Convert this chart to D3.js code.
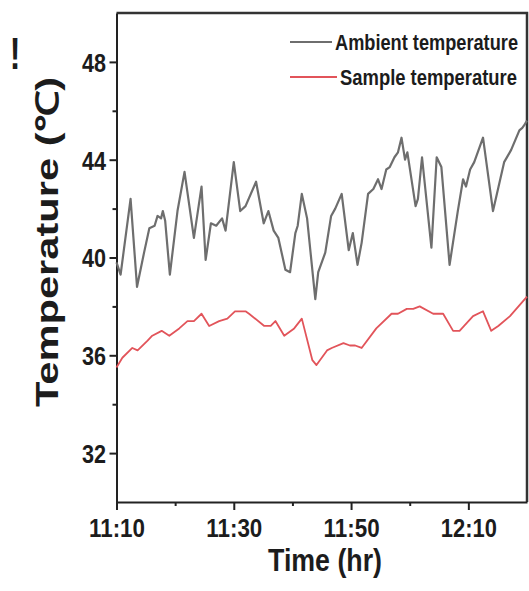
<!DOCTYPE html>
<html>
<head>
<meta charset="utf-8">
<script src="https://cdn.jsdelivr.net/npm/d3@7"></script>
<style>
  body { margin: 0; background: #fff; }
  svg { display: block; }
  text { font-family: "Liberation Sans", Arial, sans-serif; font-weight: bold; fill: #1c1c1c; }
</style>
</head>
<body>
<svg id="chart" width="529" height="591"></svg>
<script>
// minutes after 11:10 and temperature (°C)
const ambientTime = [0, 0.7, 2.4, 3.5, 4.7, 5.6, 6.5, 7.0, 7.6, 7.9,
  8.3, 9.1, 10.4, 11.6, 13.2, 14.5, 15.2, 16.1, 17.0, 18.0,
  18.6, 20.0, 21.1, 22.0, 23.8, 25.1, 25.9, 26.8, 27.6, 28.8,
  29.6, 30.5, 30.9, 31.6, 32.5, 33.9, 34.4, 35.6, 36.6, 37.3,
  38.4, 39.6, 40.3, 41.1, 41.8, 42.9, 43.8, 44.6, 45.2, 46.0,
  46.6, 47.4, 48.0, 48.6, 49.2, 49.6, 51.0, 51.4, 52.1, 53.7,
  54.6, 55.4, 56.8, 58.2, 59.1, 59.6, 60.3, 61.0, 62.5, 64.2,
  66.1, 67.3, 68.7, 69.2, 69.5, 70.0];
const ambientTemp = [39.8, 39.3, 42.4, 38.8, 40.2, 41.2, 41.3, 41.7, 41.6, 41.9,
  41.5, 39.3, 41.9, 43.5, 40.8, 42.9, 39.9, 41.4, 41.3, 41.6,
  41.1, 43.9, 41.9, 42.1, 43.1, 41.4, 41.9, 41.1, 40.8, 39.5,
  39.4, 41.0, 41.3, 42.6, 41.6, 38.3, 39.4, 40.2, 41.7, 42.0,
  42.6, 40.3, 41.0, 39.7, 40.6, 42.6, 42.8, 43.2, 42.8, 43.6,
  43.7, 44.1, 44.3, 44.9, 44.0, 44.3, 42.1, 42.4, 44.1, 40.4,
  44.1, 43.7, 39.7, 41.9, 43.2, 42.9, 43.6, 43.9, 44.9, 41.9,
  43.9, 44.4, 45.2, 45.3, 45.4, 45.6];

const sampleTime = [0, 1.0, 2.7, 3.6, 5.3, 6.1, 7.7, 9.0, 10.7, 12.1,
  13.2, 14.5, 15.8, 17.5, 18.9, 20.2, 22.0, 22.6, 25.2, 26.3,
  27.1, 28.6, 30.3, 31.6, 33.4, 34.1, 35.9, 36.7, 38.7, 39.8,
  40.7, 41.8, 44.3, 46.9, 48.0, 49.5, 50.6, 51.7, 54.0, 55.7,
  57.4, 58.5, 60.8, 62.5, 63.9, 65.1, 67.1, 70.0];
const sampleTemp = [35.5, 35.9, 36.3, 36.2, 36.6, 36.8, 37.0, 36.8, 37.1, 37.4,
  37.4, 37.7, 37.2, 37.4, 37.5, 37.8, 37.8, 37.7, 37.2, 37.2,
  37.4, 36.8, 37.1, 37.5, 35.8, 35.6, 36.2, 36.3, 36.5, 36.4,
  36.4, 36.3, 37.1, 37.7, 37.7, 37.9, 37.9, 38.0, 37.7, 37.7,
  37.0, 37.0, 37.6, 37.8, 37.0, 37.2, 37.6, 38.4];

const seriesNames = ['Ambient temperature', 'Sample temperature'];
const seriesColors = ['#6e6e6e', '#e2545a'];
const yMajorTicks = [32, 36, 40, 44, 48];
const yMinorTicks = [34, 38, 42, 46];
const xMajorTicks = ['11:10', '11:30', '11:50', '12:10'];
const xMinorTicks = ['11:20', '11:40', '12:00'];

const parseClock = d3.timeParse('%H:%M');
const start = parseClock('11:10');
const end = parseClock('12:20');
const toDate = m => new Date(start.getTime() + m * 60000);

const svg = d3.select('#chart');
const margin = { left: 116.5, top: 13, right: 2, bottom: 89 };
const width = 529 - margin.left - margin.right;
const height = 591 - margin.top - margin.bottom;
const g = svg.append('g').attr('transform', `translate(${margin.left},${margin.top})`);

const x = d3.scaleTime().domain([start, end]).range([0, width]);
const y = d3.scaleLinear().domain([30, 50]).range([height, 0]);

// the source picture is stretched vertically, so texts get a y-scale
const stretch = 1.18;

// frame (top + right)
g.append('path')
  .attr('d', `M0,0H${width}V${height}`)
  .attr('fill', 'none')
  .attr('stroke', '#333')
  .attr('stroke-width', 2.5);

// minor ticks first, majors with labels on top
g.append('g')
  .attr('transform', `translate(0,${height})`)
  .call(d3.axisBottom(x).tickValues(xMinorTicks.map(parseClock)).tickSize(4).tickFormat(''))
  .call(a => a.select('.domain').remove());
g.append('g')
  .call(d3.axisLeft(y).tickValues(yMinorTicks).tickSize(4).tickFormat(''))
  .call(a => a.select('.domain').remove());

const xAxis = g.append('g')
  .attr('transform', `translate(0,${height})`)
  .call(d3.axisBottom(x).tickValues(xMajorTicks.map(parseClock)).tickSize(8).tickSizeOuter(0).tickFormat(d3.timeFormat('%H:%M')));
xAxis.selectAll('text')
  .attr('y', 17 / stretch)
  .attr('transform', `scale(1,${stretch})`)
  .attr('font-size', 22)
  .attr('textLength', 56)
  .attr('lengthAdjust', 'spacingAndGlyphs');

const yAxis = g.append('g')
  .call(d3.axisLeft(y).tickValues(yMajorTicks).tickSize(7).tickSizeOuter(0));
yAxis.selectAll('text')
  .attr('x', -10.5)
  .attr('dy', '0.36em')
  .attr('transform', `scale(1,${stretch})`)
  .attr('font-size', 22)
  .attr('textLength', 24)
  .attr('lengthAdjust', 'spacingAndGlyphs');

svg.selectAll('.domain, .tick line').attr('stroke', '#222').attr('stroke-width', 2);
svg.selectAll('.tick text').style('font-family', '"Liberation Sans", Arial, sans-serif').attr('fill', '#1c1c1c');

// lines
const line = d3.line()
  .x(d => x(toDate(d[0])))
  .y(d => y(d[1]));

const ambient = d3.zip(ambientTime, ambientTemp);
const sample = d3.zip(sampleTime, sampleTemp);

g.append('path')
  .datum(ambient)
  .attr('fill', 'none')
  .attr('stroke', seriesColors[0])
  .attr('stroke-width', 2.2)
  .attr('stroke-linejoin', 'round')
  .attr('d', line);

g.append('path')
  .datum(sample)
  .attr('fill', 'none')
  .attr('stroke', seriesColors[1])
  .attr('stroke-width', 1.8)
  .attr('stroke-linejoin', 'round')
  .attr('d', line);

// legend
const legendY = [42, 77];
const legendLen = [183, 177];
const legendX = [335, 340];
seriesNames.forEach((name, i) => {
  svg.append('line')
    .attr('x1', 290).attr('x2', legendX[i] - 3)
    .attr('y1', legendY[i]).attr('y2', legendY[i])
    .attr('stroke', seriesColors[i])
    .attr('stroke-width', 2);
  svg.append('text')
    .attr('transform', `translate(${legendX[i]},${legendY[i] + 8}) scale(1,${stretch})`)
    .attr('font-size', 19)
    .attr('textLength', legendLen[i])
    .attr('lengthAdjust', 'spacingAndGlyphs')
    .text(name);
});

// axis titles
svg.append('text')
  .attr('transform', `translate(325,571) scale(1,${stretch})`)
  .attr('text-anchor', 'middle')
  .attr('font-size', 26)
  .attr('textLength', 114)
  .attr('lengthAdjust', 'spacingAndGlyphs')
  .text('Time (hr)');

svg.append('text')
  .attr('transform', 'translate(58,242) rotate(-90)')
  .attr('text-anchor', 'middle')
  .attr('font-size', 31)
  .attr('textLength', 330)
  .attr('lengthAdjust', 'spacingAndGlyphs')
  .text('Temperature (℃)');

// stray mark at top-left of the cropped figure
svg.append('text')
  .attr('transform', 'translate(15,69) scale(1,1.4)')
  .attr('text-anchor', 'middle')
  .attr('font-size', 32)
  .attr('fill', '#333')
  .text('!');
</script>
</body>
</html>
